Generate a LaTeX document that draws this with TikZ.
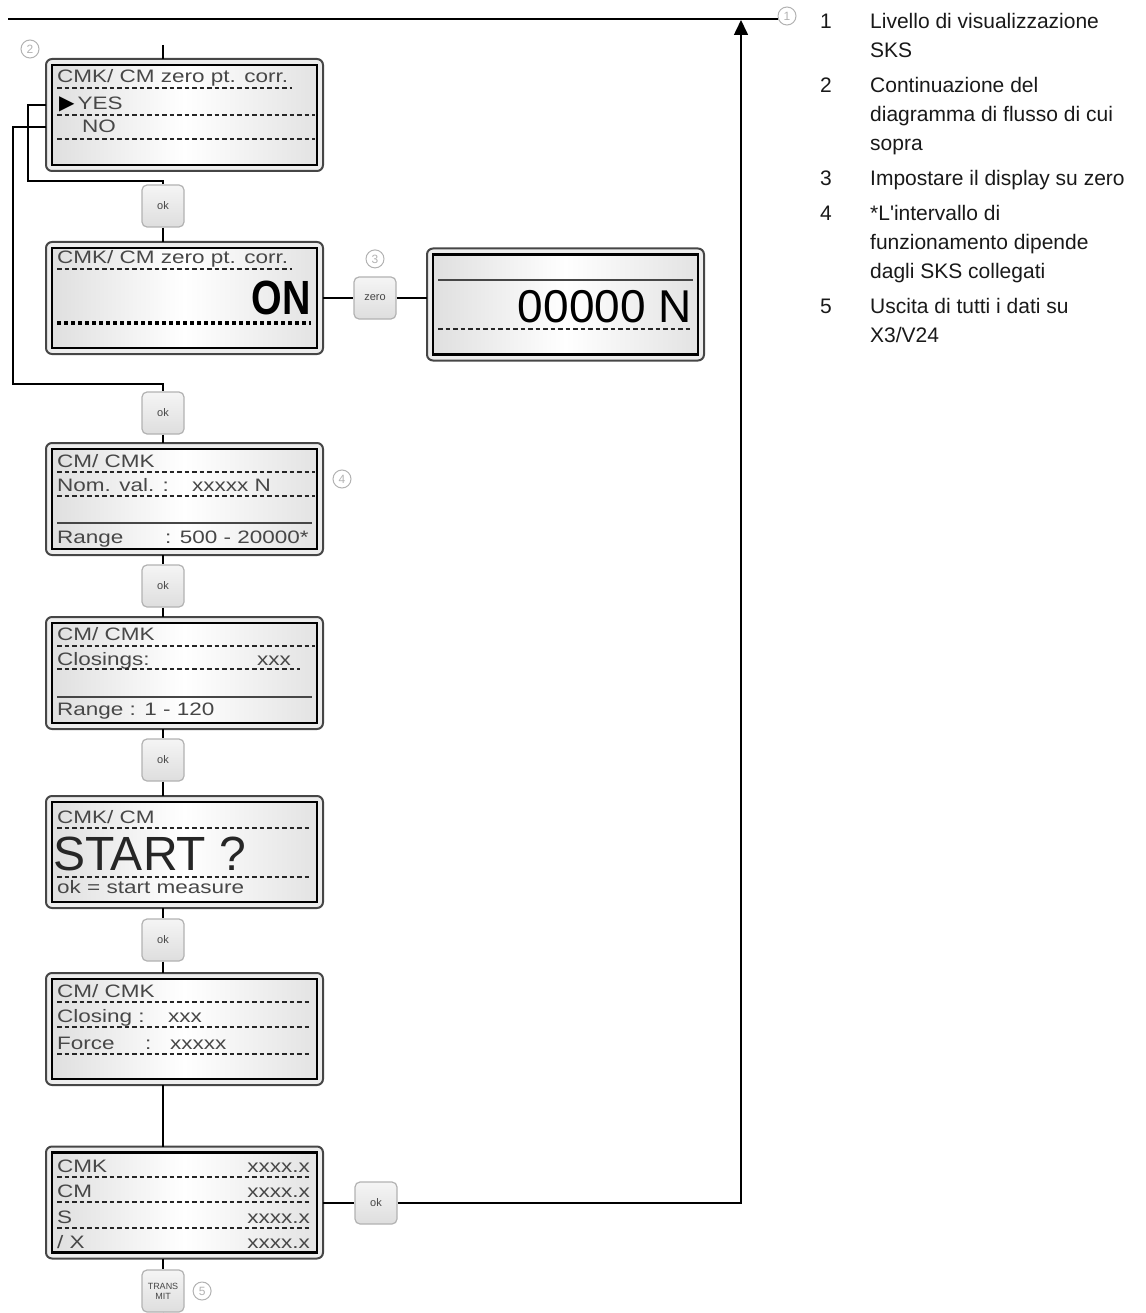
\documentclass[tikz,border=0pt]{standalone}
\usepackage{fontspec}
\setmainfont{Liberation Sans}
\newfontfamily\legendfont{Liberation Sans}
\newfontfamily\lcdfont{Liberation Sans}[FakeStretch=1.25]
\newfontfamily\lcdbold{Liberation Sans}[FakeStretch=0.82]
\newfontfamily\symfont{DejaVu Sans}
\usetikzlibrary{arrows.meta,positioning,backgrounds}

\begin{document}
\begin{tikzpicture}[x=1pt,y=-1pt,
    lcd/.style={draw=black,line width=2.6pt,minimum width=265pt,minimum height=100pt,
      inner sep=0pt,outer sep=6pt,left color=gray!25,right color=gray!22,middle color=white},
    bezel/.style={draw=gray!55!black,line width=2pt,fill=gray!14,rounded corners=6pt},
    btn/.style={draw=gray!60,line width=1.2pt,rounded corners=5pt,minimum size=42pt,
      inner sep=0pt,top color=gray!8,bottom color=gray!26,text=gray!55!black,align=center,
      font=\fontsize{11}{10}\selectfont},
    conn/.style={line width=1.6pt},
    txt/.style={anchor=base west,inner sep=0pt,text=black!72,font=\lcdfont\fontsize{18}{20}\selectfont},
    val/.style={txt,anchor=base east},
    lcddots/.style={line width=1.9pt,dash pattern=on 4.5pt off 3pt,black!85},
    lcdrule/.style={line width=1.4pt,gray!55!black},
    callout/.style={circle,draw=gray!60,line width=1pt,minimum size=18pt,inner sep=0pt,
      text=gray!60,font=\fontsize{12}{12}\selectfont}
  ]
  \useasboundingbox (0,0) rectangle (1145,1313);

  % displays
  \node[lcd] (zeroSel) at (184.5,115) {};
  \node[lcd] (zeroOn) at (184.5,298) {};
  \node[lcd] (zeroVal) at (565.5,304.5) {};
  \node[lcd] (nomVal) at (184.5,499) {};
  \node[lcd] (closings) at (184.5,673) {};
  \node[lcd] (startQ) at (184.5,852) {};
  \node[lcd] (meas) at (184.5,1029) {};
  \node[lcd] (result) at (184.5,1202.5) {};
  \begin{scope}[on background layer]
    \foreach \d in {zeroSel,zeroOn,zeroVal,nomVal,closings,startQ,meas,result}
      \draw[bezel] (\d.north west) rectangle (\d.south east);
  \end{scope}

  % keys
  \node[btn] (ok1) at (163,206) {ok};
  \node[btn] (ok2) at (163,413) {ok};
  \node[btn] (ok3) at (163,586) {ok};
  \node[btn] (ok4) at (163,760) {ok};
  \node[btn] (ok5) at (163,940) {ok};
  \node[btn] (zero) at (375,298) {zero};
  \node[btn] (ok6) at (376,1203) {ok};
  \node[btn,font=\fontsize{9}{10}\selectfont] (transmit) at (163,1291) {TRANS\\MIT};

  % display texts
  \node[txt] (selHead) at (57,83) {CMK/ CM zero pt. corr.};
  \node[txt] (yesTxt) at (59,110) {{\symfont\color{black}\fontsize{20}{20}\selectfont▶}\hspace{3pt}YES};
  \node[txt] (noTxt) at (82,133) {NO};
  \draw[lcddots] (57,88) -- (292,88);
  \foreach \y in {115,139} \draw[lcddots] (57,\y) -- (315,\y);

  \node[txt] (onHead) at (57,264) {CMK/ CM zero pt. corr.};
  \draw[lcddots] (57,269) -- (292,269);
  \node[anchor=base east,inner sep=0pt,font=\lcdbold\bfseries\fontsize{48}{50}\selectfont] (onTxt) at (311,315) {ON};
  \draw[line width=3.5pt,dash pattern=on 3.5pt off 3.5pt] (57,323) -- (311,323);

  \draw[lcdrule] (438,280) -- (693,280);
  \node[anchor=base east,inner sep=0pt,font=\fontsize{46}{48}\selectfont] (zeroTxt) at (692,322) {00000 N};
  \draw[lcddots] (438,329) -- (693,329);

  \node[txt] (nomHead) at (57,467) {CM/ CMK};
  \node[txt] (nomLbl) at (57,491) {Nom. val. :};
  \node[txt] (nomNum) at (192,491) {xxxxx N};
  \node[txt] (nomRng) at (57,543) {Range};
  \node[txt] (nomLim) at (165,543) {: 500 - 20000*};
  \foreach \y in {472,496} \draw[lcddots] (57,\y) -- (315,\y);
  \draw[lcdrule] (57,523) -- (312,523);

  \node[txt] (cloHead) at (57,640) {CM/ CMK};
  \node[txt] (cloLbl) at (57,665) {Closings:};
  \node[txt] (cloNum) at (257,665) {xxx};
  \node[txt] (cloRng) at (57,715) {Range : 1 - 120};
  \draw[lcddots] (57,646) -- (315,646);
  \draw[lcddots] (57,669) -- (300,669);
  \draw[lcdrule] (57,697) -- (312,697);

  \node[txt] (stHead) at (57,823) {CMK/ CM};
  \node[txt,text=black!85,font=\fontsize{48}{50}\selectfont] (stTxt) at (53,870) {START ?};
  \node[txt] (stHint) at (57,893) {ok = start measure};
  \foreach \y in {828,877} \draw[lcddots] (57,\y) -- (312,\y);

  \node[txt] (msHead) at (57,997) {CM/ CMK};
  \node[txt] (msClo) at (57,1022) {Closing :};
  \node[txt] (msCloV) at (168,1022) {xxx};
  \node[txt] (msFrc) at (57,1049) {Force};
  \node[txt] (msCol) at (145,1049) {:};
  \node[txt] (msFrcV) at (170,1049) {xxxxx};
  \foreach \y in {1002,1027,1054} \draw[lcddots] (57,\y) -- (312,\y);

  \node[txt] (resCmk) at (57,1172) {CMK};
  \node[txt] (resCm) at (57,1197) {CM};
  \node[txt] (resS) at (57,1223) {S};
  \node[txt] (resX) at (57,1248) {/ X};
  \foreach \y [count=\i] in {1172,1197,1223,1248}
    \node[val] (resVal\i) at (310,\y) {xxxx.x};
  \foreach \y in {1177,1202,1228} \draw[lcddots] (57,\y) -- (310,\y);

  % callouts
  \node[callout] (c1) at (787,16) {1};
  \node[callout] (c2) at (30,49) {2};
  \node[callout,above=8pt of zero] (c3) {3};
  \node[callout] (c4) at (342,479) {4};
  \node[callout,right=8pt of transmit] (c5) {5};

  % connectors
  \coordinate (lvlStart) at (8,19);
  \coordinate (lvlIn) at (741,20);
  \coordinate (contIn) at (163,45);
  \coordinate (yesBend) at (28,181);
  \coordinate (noBend) at (13,384);
  \coordinate (outEnd) at (163,1313);
  \draw[conn] (lvlStart) -- (lvlStart -| c1.west);
  \draw[conn] (contIn) -- (contIn |- zeroSel.north);
  \draw[conn] (yesTxt.west -| zeroSel.west) -| (yesBend) -| (ok1.north);
  \draw[conn] (noTxt.west -| zeroSel.west) -| (noBend) -| (ok2.north);
  \draw[conn] (ok1) -- (ok1 |- zeroOn.north);
  \draw[conn] (zeroOn.east |- zero) -- (zero);
  \draw[conn] (zero) -- (zero -| zeroVal.west);
  \draw[conn] (ok2) -- (ok2 |- nomVal.north);
  \draw[conn] (ok3 |- nomVal.south) -- (ok3) -- (ok3 |- closings.north);
  \draw[conn] (ok4 |- closings.south) -- (ok4) -- (ok4 |- startQ.north);
  \draw[conn] (ok5 |- startQ.south) -- (ok5) -- (ok5 |- meas.north);
  \draw[conn] (meas.south -| ok5) -- (result.north -| ok5);
  \draw[conn] (result.east |- ok6) -- (ok6);
  \draw[conn,-{Triangle[width=14pt,length=15pt]}] (ok6) -| (lvlIn);
  \draw[conn] (transmit |- result.south) -- (transmit) -- (outEnd);

  % legend
  \node[anchor=north west,inner sep=0pt,text=black!90,font=\legendfont\fontsize{21}{29}\selectfont] (legend) at (820,8) {%
    \begin{tabular}{@{}p{50pt}@{}l@{}}
      1 & Livello di visualizzazione\\
        & SKS\\[6pt]
      2 & Continuazione del\\
        & diagramma di flusso di cui\\
        & sopra\\[6pt]
      3 & Impostare il display su zero\\[6pt]
      4 & *L'intervallo di\\
        & funzionamento dipende\\
        & dagli SKS collegati\\[6pt]
      5 & Uscita di tutti i dati su\\
        & X3/V24
    \end{tabular}};
\end{tikzpicture}
\end{document}
